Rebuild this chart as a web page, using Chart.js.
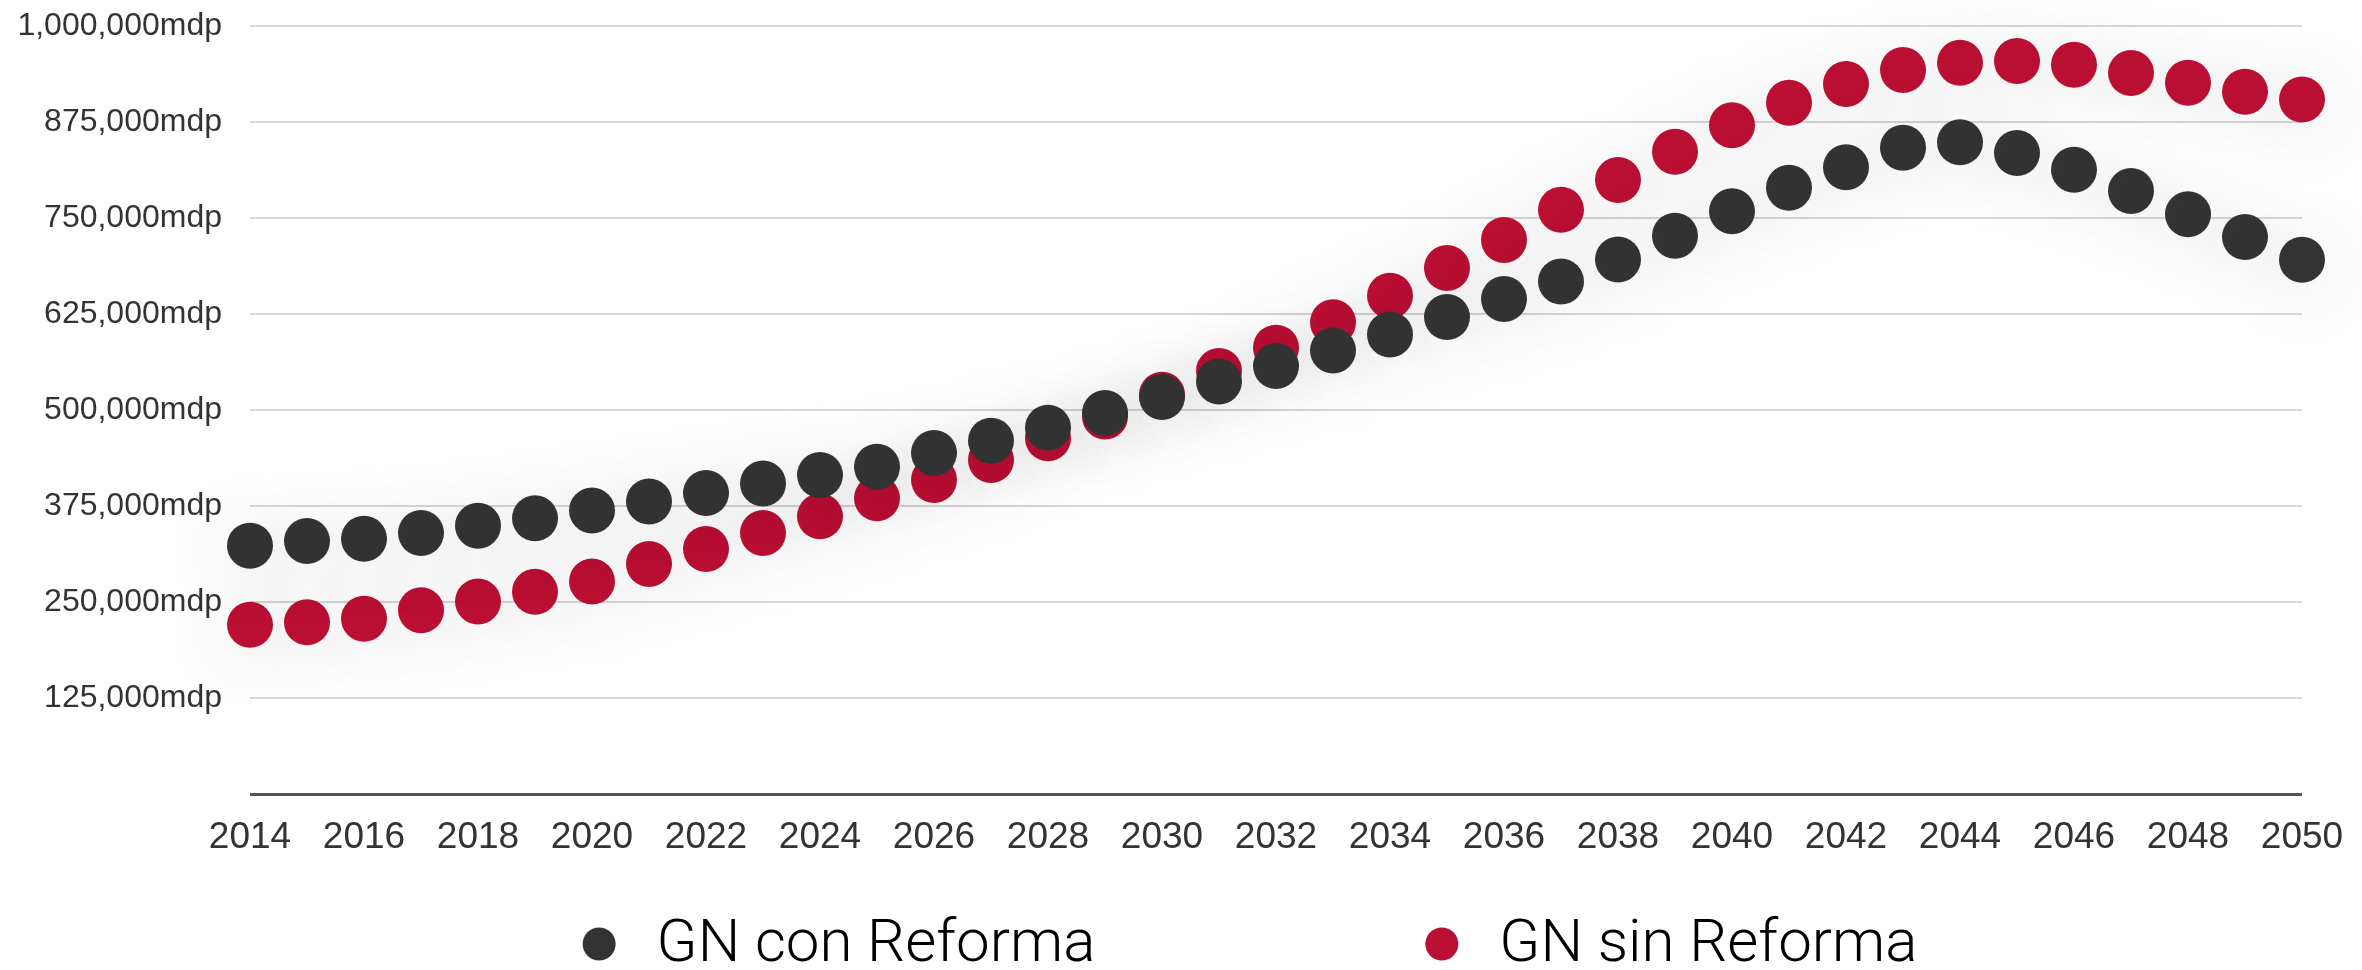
<!DOCTYPE html>
<html>
<head>
<meta charset="utf-8">
<script src="https://cdn.jsdelivr.net/npm/chart.js@4.4.1/dist/chart.umd.min.js"></script>
<style>
  html, body { margin: 0; padding: 0; background: #fff; }
</style>
</head>
<body>
<canvas id="grafica" width="2362" height="970"></canvas>
<script>
// Años del eje X
const anios = ['2014','2015','2016','2017','2018','2019','2020','2021','2022','2023','2024','2025','2026',
  '2027','2028','2029','2030','2031','2032','2033','2034','2035','2036','2037','2038','2039','2040',
  '2041','2042','2043','2044','2045','2046','2047','2048','2049','2050'];
const aniosVisibles = ['2014','2016','2018','2020','2022','2024','2026','2028','2030','2032','2034',
  '2036','2038','2040','2042','2044','2046','2048','2050'];

// Gasto en pensiones (mdp)
const conReforma = [323400, 329300, 332400, 339900, 349400, 359000, 369100, 380800, 392000,
  404200, 415400, 426000, 444000, 460000, 477000, 496100, 516900, 537100, 557300,
  577500, 598200, 621000, 644400, 667300, 696000, 726800, 758700, 789500,
  816100, 841600, 848500, 834700, 812900, 785300, 755000, 725200, 695500];
const sinReforma = [220300, 223500, 228300, 239400, 250600, 263300, 276600, 299500, 319100,
  339900, 361700, 385000, 409000, 435000, 463200, 491400, 520000, 550900, 581200,
  614100, 648700, 684800, 721500, 760800, 799600, 836300, 870800, 900100,
  924500, 942600, 952200, 954300, 949500, 938900, 926100, 914400, 904300];

const marcasY = [0, 125000, 250000, 375000, 500000, 625000, 750000, 875000, 1000000];

const series = ['GN con Reforma', 'GN sin Reforma'];
const colores = ['#333333', '#bb1034'];

// sombra difusa bajo los puntos
const sombra = {
    id: 'sombra',
    beforeDatasetsDraw(chart) {
        const c = chart.ctx;
        c.save();
        c.shadowColor = 'rgba(0,0,0,0.16)';
        c.shadowBlur = 70;
        c.shadowOffsetY = 6;
    },
    afterDatasetsDraw(chart) {
        chart.ctx.restore();
    }
};

// leyenda propia, con más separación entre elementos
const leyenda = {
    id: 'leyenda',
    afterDraw(chart) {
        const c = chart.ctx;
        c.save();
        c.font = '300 60px Roboto, "Liberation Sans", sans-serif';
        c.textBaseline = 'middle';
        const radio = 16.5, hueco = 41, separacion = 330;
        const items = chart.data.datasets.map(d => ({
            texto: d.label,
            color: d.backgroundColor,
            ancho: 2 * radio + hueco + c.measureText(d.label).width
        }));
        const total = items.reduce((s, it) => s + it.ancho, 0) + separacion * (items.length - 1);
        let x = (chart.chartArea.left + chart.chartArea.right) / 2 - 26 - total / 2;
        const y = chart.chartArea.bottom + 150;
        items.forEach(it => {
            c.fillStyle = it.color;
            c.beginPath();
            c.arc(x + radio, y, radio, 0, Math.PI * 2);
            c.fill();
            c.fillStyle = '#000';
            c.fillText(it.texto, x + 2 * radio + hueco, y + 2);
            x += it.ancho + separacion;
        });
        c.restore();
    }
};

new Chart(document.getElementById('grafica'), {
    type: 'line',
    data: {
        labels: anios,
        datasets: [{
            label: series[0],
            data: conReforma,
            backgroundColor: colores[0],
            borderColor: colores[0]
        }, {
            label: series[1],
            data: sinReforma,
            backgroundColor: colores[1],
            borderColor: colores[1]
        }]
    },
    options: {
        responsive: false,
        animation: false,
        showLine: false,
        clip: false,
        elements: {
            point: { radius: 23, borderWidth: 0, hoverRadius: 23 }
        },
        layout: { padding: { top: 26, right: 60, bottom: 106, left: 18 } },
        plugins: {
            legend: { display: false },
            tooltip: { enabled: false }
        },
        scales: {
            x: {
                offset: false,
                grid: { display: false },
                border: { display: false },
                ticks: {
                    autoSkip: false,
                    maxRotation: 0,
                    padding: 14,
                    color: '#333',
                    font: { family: '"Liberation Sans", Arial, sans-serif', size: 37 },
                    callback(val, i) {
                        const a = anios[i];
                        return aniosVisibles.includes(a) ? a : '';
                    }
                },
                afterFit(scale) { scale.height = 70; }
            },
            y: {
                min: 0,
                max: 1000000,
                border: { display: false },
                grid: {
                    drawTicks: false,
                    color: c => c.tick.value === 0 ? '#555555' : '#d9d9d9',
                    lineWidth: c => c.tick.value === 0 ? 3 : 2
                },
                afterBuildTicks(scale) {
                    scale.ticks = marcasY.map(v => ({ value: v }));
                },
                ticks: {
                    padding: 28,
                    color: '#333',
                    font: { family: '"Liberation Sans", Arial, sans-serif', size: 32 },
                    callback: v => v === 0 ? '' : v.toLocaleString('en-US') + 'mdp'
                },
                afterFit(scale) {
                    scale.width = 232;
                    scale.paddingTop = 0;
                    scale.paddingBottom = 0;
                }
            }
        }
    },
    plugins: [sombra, leyenda]
});
</script>
</body>
</html>
